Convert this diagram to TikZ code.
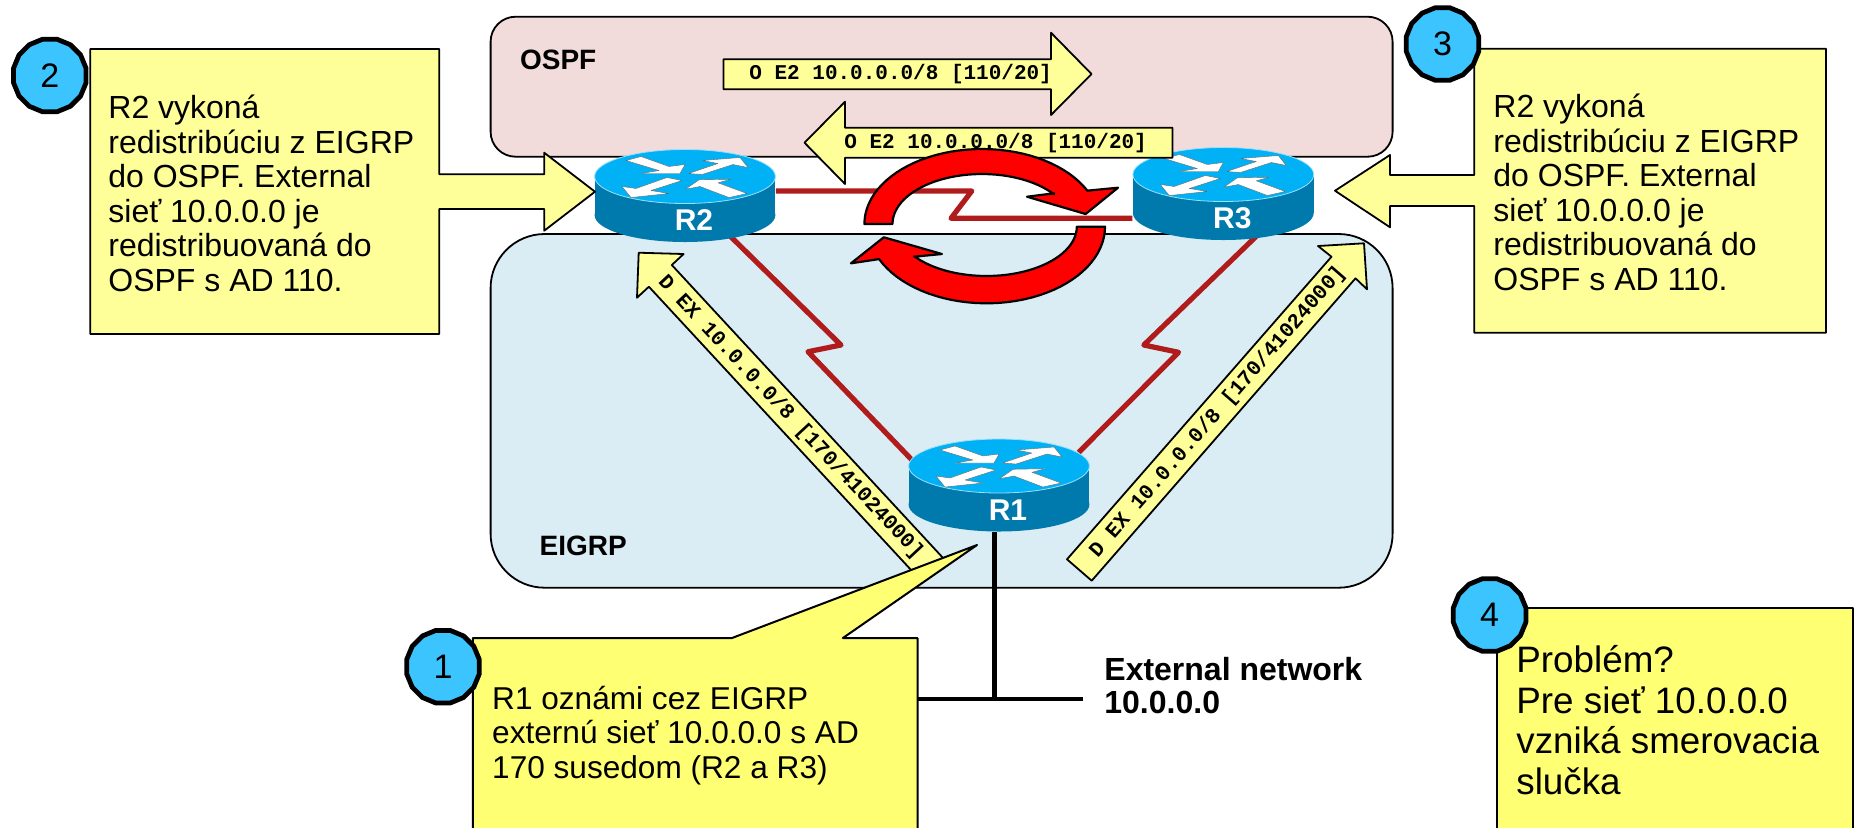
\documentclass[tikz,border=0pt]{standalone}
\usepackage{fontspec}
\setmainfont{Liberation Sans}
\newfontfamily\monofont{Liberation Mono}
\usetikzlibrary{shapes.geometric}
\definecolor{ospfcolor}{HTML}{F2DCDB}
\definecolor{eigrpcolor}{HTML}{DAECF4}
\definecolor{svetla}{HTML}{FFFF99}
\definecolor{silna}{HTML}{FFFF73}
\definecolor{kruhcolor}{HTML}{3CC4FF}
\definecolor{spojcolor}{HTML}{B01C1C}
\definecolor{vrchcolor}{HTML}{00B2F5}
\definecolor{bokcolor}{HTML}{0079AC}
\tikzset{
	oblast/.style={draw=black, line width=.9pt, rounded corners=#1},
	cesta/.style={draw=black, line width=.9pt, fill=svetla},
	bublina/.style={draw=black, line width=1pt, fill=silna},
	popis/.style={inner sep=0pt, anchor=west, align=left, font=\fontsize{16}{17.25}\selectfont},
	smer/.style={inner sep=0pt, font=\fontsize{10.5}{12}\selectfont\monofont\bfseries},
	kruh/.style={regular polygon, regular polygon sides=16, minimum size=37pt, inner sep=0pt, draw=black, line width=2.4pt, fill=kruhcolor, font=\fontsize{17}{20}\selectfont},
	spoj/.style={draw=spojcolor, line width=2.6pt},
	siet/.style={draw=black, line width=2.4pt},
	slucka/.style={draw=black, line width=1.1pt, fill=red},
	routerbox/.style={minimum width=90.5pt, minimum height=46.5pt, inner sep=0pt},
	nadpis/.style={inner sep=0pt, anchor=west, font=\fontsize{14}{16}\selectfont\bfseries}
}
\begin{document}
\begin{tikzpicture}[x=.5pt, y=-.5pt, line join=round]
	\useasboundingbox (0,0) rectangle (1854,827);
	\clip (0,0) rectangle (1854,827);
	% oblasti
	\path[oblast=12.5pt, fill=ospfcolor] (490.6,16.7) rectangle (1392.6,156.7);
	\path[oblast=27pt, fill=eigrpcolor] (490.6,234) rectangle (1392.6,587.7);
	\node[nadpis] (ospf) at (519.7,60) {OSPF};
	\node[nadpis] (eigrp) at (539.3,546) {EIGRP};
	% routre
	\foreach \nazov/\cx/\cy in {R1/999/466, R2/685/176.5, R3/1223.3/174.5} {
		\node[routerbox] (\nazov) at (\cx,\cy+19.5) {};
	}
	\coordinate (z1) at (971.8,191);
	\coordinate (z2) at (951,218.3);
	\coordinate (z3) at (841,345);
	\coordinate (z4) at (808,351.7);
	\coordinate (z5) at (1143.8,345);
	\coordinate (z6) at (1178.5,352.3);
	\coordinate (ext) at (994.5,699);
	\draw[spoj] (R2.east |- z1) -- (z1) -- (z2) -- (z2 -| R3.west);
	\draw[spoj, shorten <=-8pt, shorten >=-8pt] (R2.-42) -- (z3) -- (z4) -- (R1.162);
	\draw[spoj, shorten <=-8pt, shorten >=-8pt] (R3.-59) -- (z5) -- (z6) -- (R1.26);
	\node[inner sep=0pt, anchor=west, align=left, font=\fontsize{16}{16.5}\selectfont\bfseries] (extnet) at (1104,685.5) {External network\\10.0.0.0};
	\draw[siet] (ext |- R1.south) -- (ext);
	\draw[siet] (880,699) -- (ext) -- (1083,699);
	\foreach \nazov/\cx/\cy in {R1/999/466, R2/685/176.5, R3/1223.3/174.5} {
		\fill[bokcolor] (\cx,\cy+38.5) ellipse [x radius=90.4, y radius=27];
		\fill[bokcolor] (\cx-90.4,\cy) rectangle (\cx+90.4,\cy+38.5);
		\fill[vrchcolor, draw=white!60!vrchcolor, line width=.4pt] (\cx,\cy) ellipse [x radius=90.4, y radius=27];
		\begin{scope}[shift={(\cx,\cy)}]
			\fill[white, draw=black!60, line width=.2pt]
				(-59,-16) -- (-44,-20) -- (-16,-10) -- (0,-12) -- (-5,-3) -- (-44,-3) -- (-26,-6) -- cycle
				(3.5,-3) -- (33,-13) -- (17.5,-16) -- (55,-19) -- (63,-9) -- (48,-12) -- (17,-2) -- cycle
				(-3,4) -- (-34,14) -- (-16,17) -- (-54,21) -- (-63,10) -- (-49,12) -- (-18,1) -- cycle
				(.5,12.7) -- (14,3.3) -- (46,2.7) -- (33,6.3) -- (62,17) -- (44,21) -- (15,10) -- cycle;
		\end{scope}
		\node[text=white, inner sep=0pt, font=\fontsize{15}{17}\selectfont\bfseries] (\nazov text) at (\cx+9,\cy+44) {\nazov};
	}
	% sipky s cestami
	\path[cesta] (723.5,59.3) -- (1051,59.3) -- (1051,32.7) -- (1091.5,74) -- (1051,115) -- (1051,89.3) -- (723.5,89.3) -- cycle;
	\node[smer, anchor=west] (ospf1) at (749,74) {O E2 10.0.0.0/8 [110/20]};
	\path[cesta] (1172.5,127.7) -- (845,127.7) -- (845,101.7) -- (804.5,142.7) -- (845,184) -- (845,157.7) -- (1172.5,157.7) -- cycle;
	\node[smer, anchor=west] (ospf2) at (844,142.7) {O E2 10.0.0.0/8 [110/20]};
	\path[cesta] (638.7,252.7) -- (683.6,254) -- (671.8,265) -- (944,559) -- (921,580.7) -- (648.9,286.7) -- (637,297.7) -- cycle;
	\node[smer, rotate=-47] (eigrp1) at (790.5,417.5) {D EX 10.0.0.0/8 [170/41024000]};
	\path[cesta] (1364,243.3) -- (1367,289.3) -- (1355.5,278.3) -- (1091.7,580.7) -- (1067,559.3) -- (1331.5,256.7) -- (1318,246) -- cycle;
	\node[smer, rotate=49] (eigrp2) at (1217.7,412) {D EX 10.0.0.0/8 [170/41024000]};
	% slucka
	\path[slucka] plot[domain=180:333.6, samples=40] ({982+117.6*cos(\x)},{224+75*sin(\x)})
		-- (1118,187.7) -- (1085.6,214) -- (1027,196.7) -- (1054,193.3)
		-- plot[domain=323.5:180, samples=40] ({982+89.5*cos(\x)},{224+50*sin(\x)}) -- cycle;
	\path[slucka] plot[domain=0:155, samples=40] ({986.5+118.5*cos(\x)},{226.7+76.6*sin(\x)})
		-- (851,263.3) -- (883.8,237.3) -- (941.9,254) -- (914.3,256.7)
		-- plot[domain=143:0, samples=40] ({986.5+90.3*cos(\x)},{226.7+49.3*sin(\x)}) -- cycle;
	% bubliny
	\path[cesta] (90.3,49) -- (439.3,49) -- (439.3,174.3) -- (544.2,174.3) -- (544.2,152.7) -- (595,191.7) -- (544.2,230.7) -- (544.2,209) -- (439.3,209) -- (439.3,334) -- (90.3,334) -- cycle;
	\node[popis] (text2) at (108,193.5) {R2 vykoná\\redistribúciu z EIGRP\\do OSPF. External\\sieť 10.0.0.0 je\\redistribuovaná do\\OSPF s AD 110.};
	\path[cesta] (1826,48.7) -- (1474.3,48.7) -- (1474.3,175) -- (1390,175) -- (1390,155) -- (1335,190.7) -- (1390,227.3) -- (1390,206) -- (1474.3,206) -- (1474.3,332.7) -- (1826,332.7) -- cycle;
	\node[popis] (text3) at (1493,192.5) {R2 vykoná\\redistribúciu z EIGRP\\do OSPF. External\\sieť 10.0.0.0 je\\redistribuovaná do\\OSPF s AD 110.};
	\path[bublina] (472.9,840) -- (472.9,638) -- (732,638) -- (977,545) -- (842.9,638) -- (917.5,638) -- (917.5,840) -- cycle;
	\node[popis, font=\fontsize{15.8}{17.25}\selectfont] (text1) at (491.8,735.5) {R1 oznámi cez EIGRP\\externú sieť 10.0.0.0 s AD\\170 susedom (R2 a R3)};
	\path[bublina] (1497.3,840) -- (1497.3,608.3) -- (1853.3,608.3) -- (1853.3,840) -- cycle;
	\node[popis, font=\fontsize{18.4}{20.35}\selectfont] (text4) at (1516,720) {Problém?\\Pre sieť 10.0.0.0\\vzniká smerovacia\\slučka};
	% cisla
	\foreach \cislo/\kx/\ky in {1/443/666.7, 2/49.8/75.5, 3/1442.5/44, 4/1489.6/615} {
		\node[kruh] (kruh\cislo) at (\kx,\ky) {\cislo};
	}
\end{tikzpicture}
\end{document}
